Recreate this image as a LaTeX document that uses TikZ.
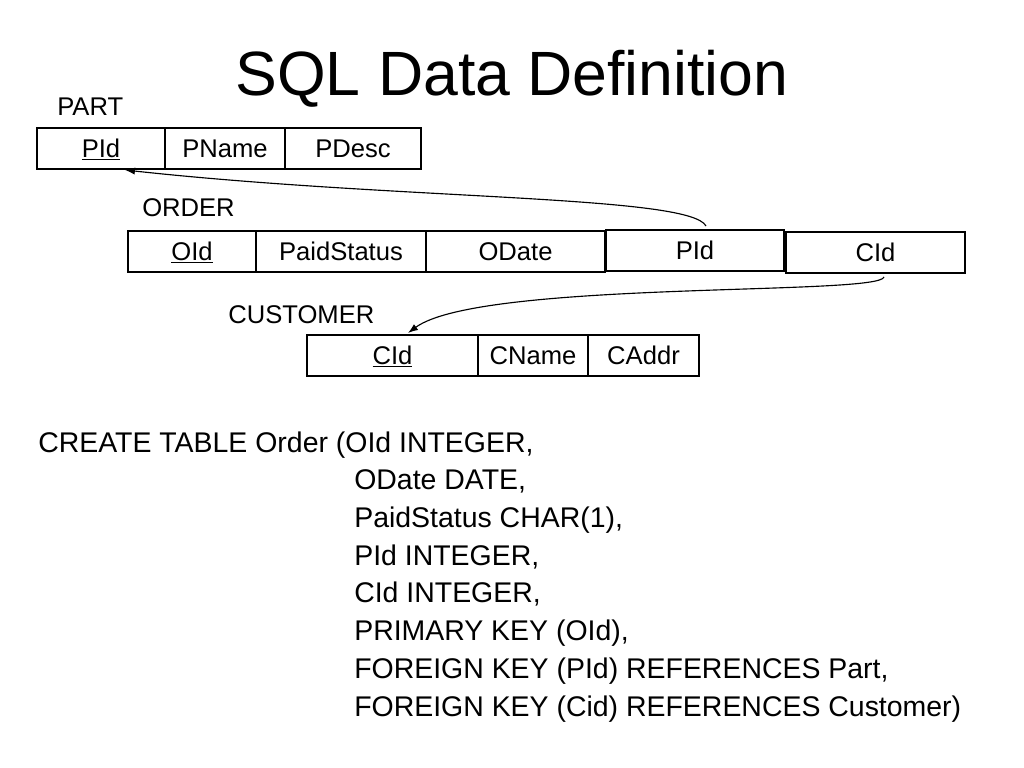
\documentclass[tikz,border=0pt]{standalone}
\usepackage{fontspec}
\setmainfont{Liberation Sans}
\usetikzlibrary{calc, positioning, arrows.meta}
\newdimen\px
\px=0.703125pt
\tikzset{>={Latex[length=7pt, width=5pt]},
  cell/.style={draw, line width=0.8pt, minimum height=41\px, inner sep=0pt, outer sep=0pt, text height=15pt, text depth=3pt, font=\fontsize{18}{21}\selectfont},
  tname/.style={anchor=base west, inner sep=0pt, font=\fontsize{18}{21}\selectfont},
  code/.style={anchor=base west, inner sep=0pt, font=\fontsize{20}{26.5}\selectfont},
  link/.style={->, line width=0.8pt}}

\begin{document}
\begin{tikzpicture}[x=\px, y=-\px]
\useasboundingbox (0,0) rectangle (1024,768);
\node[anchor=base, font=\fontsize{44}{50}\selectfont] (title) at (512,96) {SQL Data Definition};
% PART
\node[tname] (partname) at (57,116) {PART};
\node[cell, minimum width=128\px, anchor=north west] (pPId) at (37,128) {\underline{PId}};
\node[cell, minimum width=120\px, right=0pt of pPId] (pPName) {PName};
\node[cell, minimum width=136\px, right=0pt of pPName] (pPDesc) {PDesc};
% ORDER
\node[tname] (ordername) at (142,217) {ORDER};
\node[cell, minimum width=128\px, anchor=north west] (oOId) at (128,231) {\underline{OId}};
\node[cell, minimum width=170\px, right=0pt of oOId] (oPaid) {PaidStatus};
\node[cell, minimum width=179\px, right=0pt of oPaid] (oODate) {ODate};
\node[cell, minimum width=178\px, right=1\px of oODate, yshift=1\px] (oPId) {PId};
\node[cell, minimum width=179\px, right=2\px of oPId, yshift=-2\px] (oCId) {CId};
% CUSTOMER
\node[tname] (custname) at (228,323) {CUSTOMER};
\node[cell, minimum width=171\px, anchor=north west] (cCId) at (307,335) {\underline{CId}};
\node[cell, minimum width=110\px, right=0pt of cCId] (cCName) {CName};
\node[cell, minimum width=111\px, right=0pt of cCName] (cCAddr) {CAddr};
% foreign keys
\draw[link] ($(oPId.north)+(11,-4)$) .. controls +(-16,-31) and +(275,30) .. ($(pPId.south)+(24,1)$);
\draw[link] ($(oCId.south)+(8.5,4)$) .. controls +(-4,19) and +(72,-53) .. ($(cCId.north)+(15.5,-2)$);
% table definition
\node[code] (create) at (38,452) {CREATE TABLE Order (OId INTEGER,};
\node[code, align=left] (cols) at (354,716) {ODate DATE,\\
PaidStatus CHAR(1),\\
PId INTEGER,\\
CId INTEGER,\\
PRIMARY KEY (OId),\\
FOREIGN KEY (PId) REFERENCES Part,\\
FOREIGN KEY (Cid) REFERENCES Customer)};
\end{tikzpicture}
\end{document}
